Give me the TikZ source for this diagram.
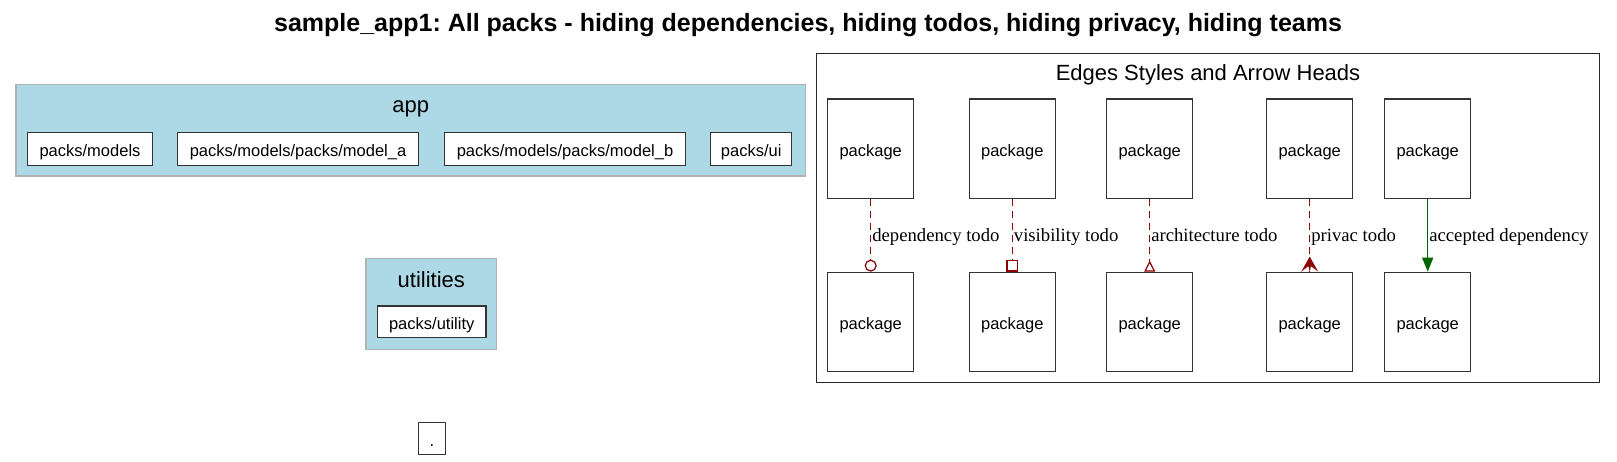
\documentclass[tikz,border=0pt]{standalone}
\usepackage{fontspec}
\setmainfont{Liberation Sans}
\newfontfamily\serifx{Liberation Serif}
\usetikzlibrary{arrows.meta,calc}
\definecolor{lb}{HTML}{ADD8E6}
\definecolor{dred}{HTML}{8B0000}
\definecolor{dgreen}{HTML}{006400}
\frenchspacing
\begin{document}
\begin{tikzpicture}[x=1pt,y=-1pt,
  pkg/.style={draw=black!80, line width=1.2pt, fill=white, inner sep=0pt,
    font=\fontsize{16.5}{19}\selectfont, text height=18.8pt, text depth=3.5pt},
  bigpkg/.style={pkg, minimum width=86pt, minimum height=99.3pt},
  clus/.style={draw=black!30, line width=1.2pt, fill=lb},
  clabel/.style={anchor=base, inner sep=0pt, font=\fontsize{22}{26}\selectfont},
  elabel/.style={anchor=west, inner sep=0pt, xshift=1pt, yshift=-1.5pt,
    text height=13pt, text depth=4pt,
    font=\serifx\fontsize{18.7}{22}\selectfont},
  todo/.style={draw=dred, line width=1.2pt, dash pattern=on 7pt off 5pt},
  okdep/.style={draw=dgreen, line width=1.2pt}]
\useasboundingbox (0,0) rectangle (1617,461);

% title
\node[anchor=base, inner sep=0pt, font=\bfseries\fontsize{25}{29}\selectfont] (title) at (808,31)
  {sample\_app1: All packs - hiding dependencies, hiding todos, hiding privacy, hiding teams};

% app cluster
\path[clus] (16,84.7) rectangle (805.7,176);
\node[clabel] (applbl) at (410.8,112) {app};
\node[pkg, minimum width=125.4pt, minimum height=33pt] (m1) at (90,149.2) {packs/models};
\node[pkg, minimum width=240.6pt, minimum height=33pt] (m2) at (298,149.2) {packs/models/packs/model\_a};
\node[pkg, minimum width=241.4pt, minimum height=33pt] (m3) at (565,149.2) {packs/models/packs/model\_b};
\node[pkg, minimum width=81pt, minimum height=33pt] (m4) at (751.2,149.2) {packs/ui};

% utilities cluster
\path[clus] (366,258.3) rectangle (496.7,349.3);
\node[clabel] (utillbl) at (431.3,287.7) {utilities};
\node[pkg, minimum width=108.7pt, minimum height=31.7pt] (util) at (431.7,321.9) {packs/utility};

% root node
\node[pkg, minimum width=27pt, minimum height=32pt] (root) at (431.8,438.7) {.};

% legend cluster
\draw[line width=1.2pt, black!85] (816.7,53.3) rectangle (1599.3,382.3);
\node[clabel] (leglbl) at (1208,80.5) {Edges Styles and Arrow Heads};

\foreach \n/\x in {1/870.7,2/1012.3,3/1149.7,4/1309.7,5/1427.7}{
  \node[bigpkg] (p\n a) at (\x,148.7) {package};
  \node[bigpkg] (p\n b) at (\x,321.9) {package};
}

\draw[todo, -{Circle[open,length=12pt,width=12pt]}] (p1a.south) -- node[elabel] {dependency todo} (p1b.north);
\draw[todo, -{Square[open,length=12pt,width=12pt]}] (p2a.south) -- node[elabel] {visibility todo} (p2b.north);
\draw[todo, -{Triangle[open,reversed,length=11pt,width=11pt]}] (p3a.south) -- node[elabel] {architecture todo} (p3b.north);
\draw[todo] (p4a.south) -- node[elabel] {privac todo} (p4b.north);
\coordinate (c4) at (p4b.north);
\fill[dred] ($(c4)+(0,-15)$) -- ($(c4)+(-8.5,0)$) -- ($(c4)+(-1.2,-5.5)$) -- (c4)
  -- ($(c4)+(1.2,-5.5)$) -- ($(c4)+(8.5,0)$) -- cycle;
\draw[okdep, -{Triangle[length=14pt,width=11pt]}] (p5a.south) -- node[elabel] {accepted dependency} (p5b.north);
\end{tikzpicture}
\end{document}
